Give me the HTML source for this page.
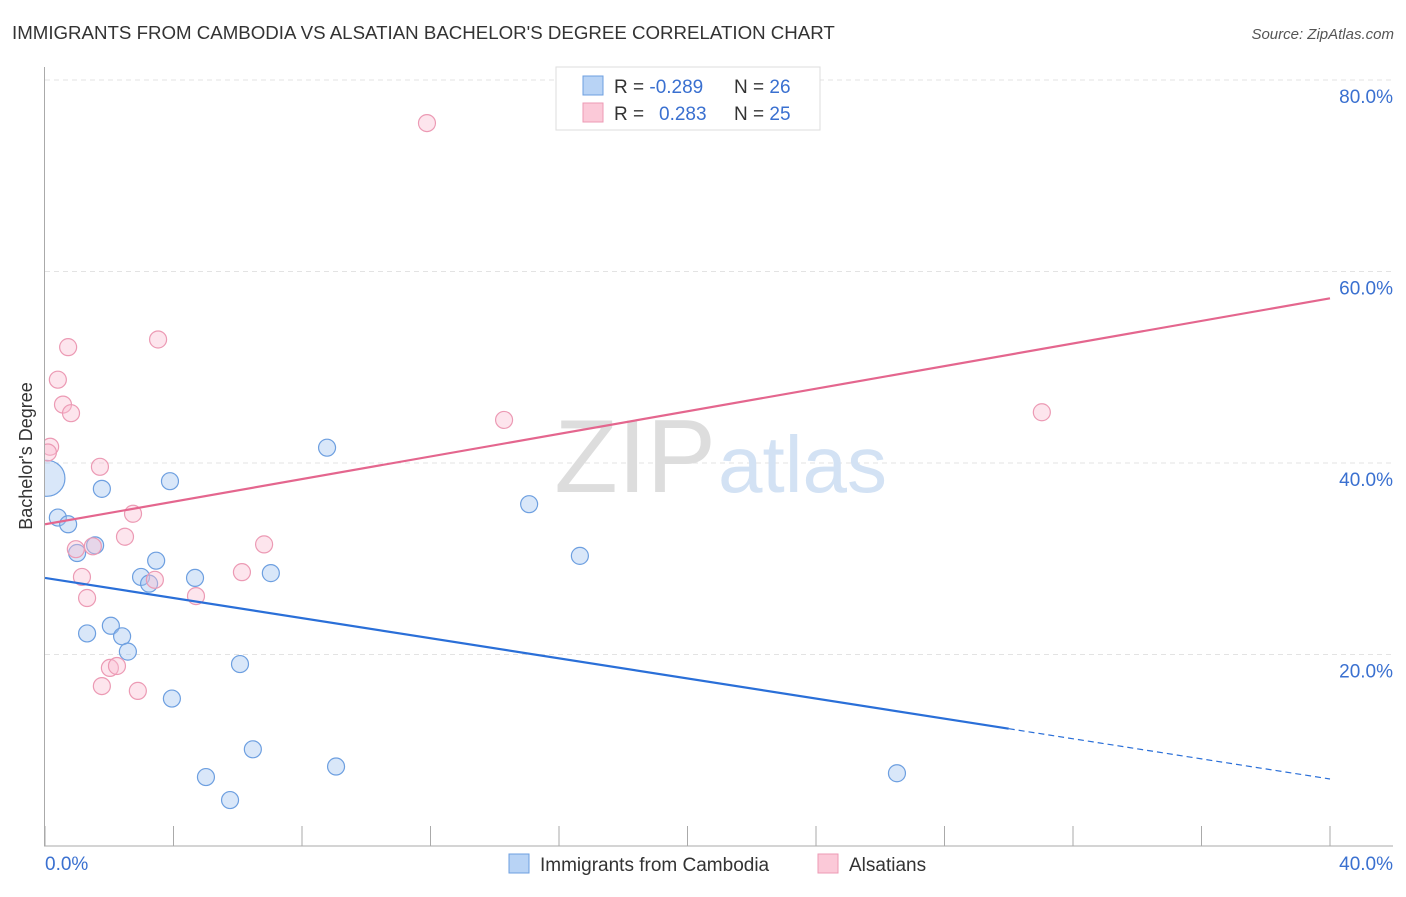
<!DOCTYPE html>
<html><head><meta charset="utf-8"><style>
body{margin:0;background:#fff;font-family:"Liberation Sans",sans-serif;}
svg text{font-family:"Liberation Sans",sans-serif;}
</style></head><body>
<svg width="1406" height="892" viewBox="0 0 1406 892">
<defs><clipPath id="plotclip"><rect x="45" y="60" width="1360" height="786"/></clipPath></defs>
<text x="12" y="39" font-size="18.7" fill="#333">IMMIGRANTS FROM CAMBODIA VS ALSATIAN BACHELOR'S DEGREE CORRELATION CHART</text>
<text x="1394" y="39" font-size="15" fill="#555" font-style="italic" text-anchor="end">Source: ZipAtlas.com</text>
<g id="grid"></g>
<text x="716" y="492" font-size="104" fill="#ddd" text-anchor="end" font-family="Liberation Serif">ZIP</text>
<text x="718" y="492" font-size="80" fill="#d3e2f4">atlas</text>
<g id="axes"></g>
<g id="marks" clip-path="url(#plotclip)"></g>
<text x="32" y="456" font-size="18" fill="#333" text-anchor="middle" transform="rotate(-90 32 456)">Bachelor's Degree</text>
<g>
<rect x="556" y="67" width="264" height="63" fill="#fff" stroke="#ddd"/>
<rect x="583" y="76" width="20" height="19" fill="#b8d3f5" stroke="#6d9fe0"/>
<rect x="583" y="103" width="20" height="19" fill="#fbc9d8" stroke="#ec9ab4"/>
<text x="614" y="93" font-size="19" fill="#333">R = <tspan fill="#3a70d0">-0.289</tspan></text>
<text x="734" y="93" font-size="19" fill="#333">N = <tspan fill="#3a70d0">26</tspan></text>
<text x="614" y="120" font-size="19" fill="#333">R = <tspan fill="#3a70d0" x="659">0.283</tspan></text>
<text x="734" y="120" font-size="19" fill="#333">N = <tspan fill="#3a70d0">25</tspan></text>
</g>
<g>
<rect x="509" y="854" width="20" height="19" fill="#b8d3f5" stroke="#6d9fe0"/>
<text x="540" y="871" font-size="19" fill="#333">Immigrants from Cambodia</text>
<rect x="818" y="854" width="20" height="19" fill="#fbc9d8" stroke="#ec9ab4"/>
<text x="849" y="871" font-size="19" fill="#333">Alsatians</text>
</g>
</svg>
<script>
const yTicks=[20,40,60,80];
const yTickLabels=["20.0%","40.0%","60.0%","80.0%"];
const xTickLabels=["0.0%","40.0%"];
const blueX=[0.06,0.40,0.72,1.0,1.56,1.77,1.31,2.05,2.40,2.58,2.99,3.24,3.46,3.89,3.95,4.67,5.01,5.76,6.07,6.47,7.03,8.78,9.06,15.07,16.65,26.52];
const blueY=[38.4,34.3,33.6,30.6,31.4,37.3,22.2,23.0,21.9,20.3,28.1,27.4,29.8,38.1,15.4,28.0,7.2,4.8,19.0,10.1,28.5,41.6,8.3,35.7,30.3,7.6];
const pinkX=[0.16,0.09,0.72,0.40,0.56,0.81,1.71,2.74,0.96,1.49,2.49,1.15,1.31,3.42,3.52,4.70,6.13,6.82,2.02,2.24,1.77,2.89,11.89,14.29,31.03];
const pinkY=[41.7,41.1,52.1,48.7,46.1,45.2,39.6,34.7,31.0,31.3,32.3,28.1,25.9,27.8,52.9,26.1,28.6,31.5,18.6,18.8,16.7,16.2,75.5,44.5,45.3];
const blueTrend=[28.0,7.0];
const pinkTrend=[33.6,57.2];
const xs=v=>45+v/40*1285, ys=v=>846-v*9.575;
const NS="http://www.w3.org/2000/svg";
function mk(t,a,p){const e=document.createElementNS(NS,t);for(const k in a)e.setAttribute(k,a[k]);p.appendChild(e);return e;}
const grid=document.getElementById('grid'),axes=document.getElementById('axes'),marks=document.getElementById('marks');
yTicks.forEach((t,i)=>{
 const l=mk('line',{x1:45,x2:1393,y1:ys(t),y2:ys(t),stroke:'#e3e3e3','stroke-dasharray':'5,4'},grid);
 
 
 const tx=mk('text',{x:1393,y:ys(t)+23,'font-size':19,fill:'#3a70d0','text-anchor':'end'},axes);
 tx.textContent=yTickLabels[i];
 
 
});
const ya=mk('line',{x1:44.5,x2:44.5,y1:67,y2:846,stroke:'#aaa'},axes);


const xa=mk('line',{x1:44,x2:1393,y1:846,y2:846,stroke:'#aaa'},axes);


for(let i=0;i<=10;i++){
 const tk=mk('line',{x1:xs(i*4),x2:xs(i*4),y1:826,y2:846,stroke:'#aaa'},axes);
 
 
}
const xl0=mk('text',{x:45,y:870,'font-size':19,fill:'#3a70d0'},axes);xl0.textContent=xTickLabels[0];


const xl1=mk('text',{x:1393,y:870,'font-size':19,fill:'#3a70d0','text-anchor':'end'},axes);xl1.textContent=xTickLabels[1];


blueX.forEach((v,i)=>{
 const c=mk('circle',{cx:xs(v),cy:ys(blueY[i]),r:i===0?18:8.5,fill:'rgba(160,195,240,0.4)',stroke:'#6d9fe0','stroke-width':1.2},marks);
 
 
});
pinkX.forEach((v,i)=>{
 const c=mk('circle',{cx:xs(v),cy:ys(pinkY[i]),r:8.5,fill:'rgba(250,190,210,0.4)',stroke:'#ec9ab4','stroke-width':1.2},marks);
 
 
});
const bAt=x=>blueTrend[0]+(blueTrend[1]-blueTrend[0])*x/40;
const b1=mk('line',{x1:xs(0),y1:ys(bAt(0)),x2:xs(30),y2:ys(bAt(30)),stroke:'#2a6fd8','stroke-width':2.2},marks);


const b2=mk('line',{x1:xs(30),y1:ys(bAt(30)),x2:xs(40),y2:ys(bAt(40)),stroke:'#2a6fd8','stroke-width':1.2,'stroke-dasharray':'6,4'},marks);


const p1=mk('line',{x1:xs(0),y1:ys(pinkTrend[0]),x2:xs(40),y2:ys(pinkTrend[1]),stroke:'#e4668e','stroke-width':2.2},marks);


</script>
</body></html>
